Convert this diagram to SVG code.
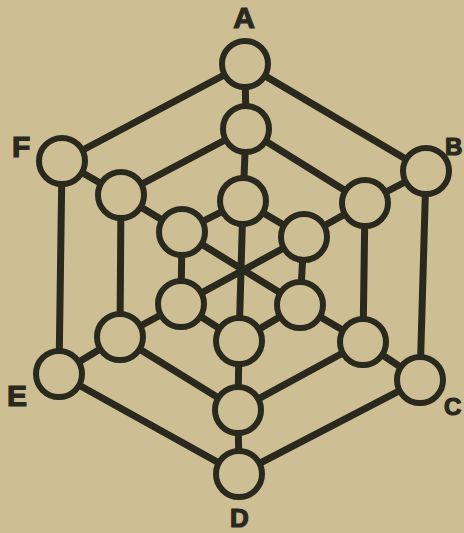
<svg xmlns="http://www.w3.org/2000/svg" width="464" height="533" viewBox="0 0 464 533">
<style>
.bg{fill:#cdbf93}
.edge{stroke:#2a291e;stroke-width:7;stroke-linecap:round;fill:none}
.node{fill:#cdbf93;stroke:#2a291e;stroke-width:6}
.lbl{font-family:"Liberation Sans",Arial,sans-serif;font-weight:bold;font-size:30px;fill:#2a291e;stroke:#2a291e;stroke-width:1.2}
.sm{font-size:24px}
</style>
<rect class="bg" x="0" y="0" width="464" height="533"/>
<g id="connectors">
<polygon class="edge" points="245,64 426,171 420,380 239,474 59,374 62,161"/>
<polygon class="edge" points="246,129 365,203 363,342 238,410 120,337 121,195"/>
<polygon class="edge" points="243,201 304,237 300,305 239,341 181,304 182,232"/>
<line class="edge" x1="245" y1="64" x2="246" y2="129"/>
<line class="edge" x1="426" y1="171" x2="365" y2="203"/>
<line class="edge" x1="420" y1="380" x2="363" y2="342"/>
<line class="edge" x1="239" y1="474" x2="238" y2="410"/>
<line class="edge" x1="59" y1="374" x2="120" y2="337"/>
<line class="edge" x1="62" y1="161" x2="121" y2="195"/>
<line class="edge" x1="246" y1="129" x2="243" y2="201"/>
<line class="edge" x1="365" y1="203" x2="304" y2="237"/>
<line class="edge" x1="363" y1="342" x2="300" y2="305"/>
<line class="edge" x1="238" y1="410" x2="239" y2="341"/>
<line class="edge" x1="120" y1="337" x2="181" y2="304"/>
<line class="edge" x1="121" y1="195" x2="182" y2="232"/>
<line class="edge" x1="243" y1="201" x2="239" y2="341"/>
<line class="edge" x1="182" y1="232" x2="300" y2="305"/>
<line class="edge" x1="304" y1="237" x2="181" y2="304"/>
</g>
<g id="node-A"><circle class="node" cx="245" cy="64" r="23"/><text class="lbl" x="244" y="28" text-anchor="middle">A</text></g>
<g id="node-B"><circle class="node" cx="426" cy="171" r="23"/><text class="lbl sm" x="445" y="155">B</text></g>
<g id="node-C"><circle class="node" cx="420" cy="380" r="23"/><text class="lbl sm" x="444" y="415">C</text></g>
<g id="node-D"><circle class="node" cx="239" cy="474" r="23"/><text class="lbl" x="230" y="527" style="font-size:26px">D</text></g>
<g id="node-E"><circle class="node" cx="59" cy="374" r="23"/><text class="lbl" x="7" y="406">E</text></g>
<g id="node-F"><circle class="node" cx="62" cy="161" r="23"/><text class="lbl" x="12" y="157">F</text></g>
<g id="node-m1"><circle class="node" cx="246" cy="129" r="23"/></g>
<g id="node-m2"><circle class="node" cx="365" cy="203" r="23"/></g>
<g id="node-m3"><circle class="node" cx="363" cy="342" r="23"/></g>
<g id="node-m4"><circle class="node" cx="238" cy="410" r="23"/></g>
<g id="node-m5"><circle class="node" cx="120" cy="337" r="23"/></g>
<g id="node-m6"><circle class="node" cx="121" cy="195" r="23"/></g>
<g id="node-i1"><circle class="node" cx="243" cy="201" r="23"/></g>
<g id="node-i2"><circle class="node" cx="304" cy="237" r="23"/></g>
<g id="node-i3"><circle class="node" cx="300" cy="305" r="23"/></g>
<g id="node-i4"><circle class="node" cx="239" cy="341" r="23"/></g>
<g id="node-i5"><circle class="node" cx="181" cy="304" r="23"/></g>
<g id="node-i6"><circle class="node" cx="182" cy="232" r="23"/></g>
</svg>
